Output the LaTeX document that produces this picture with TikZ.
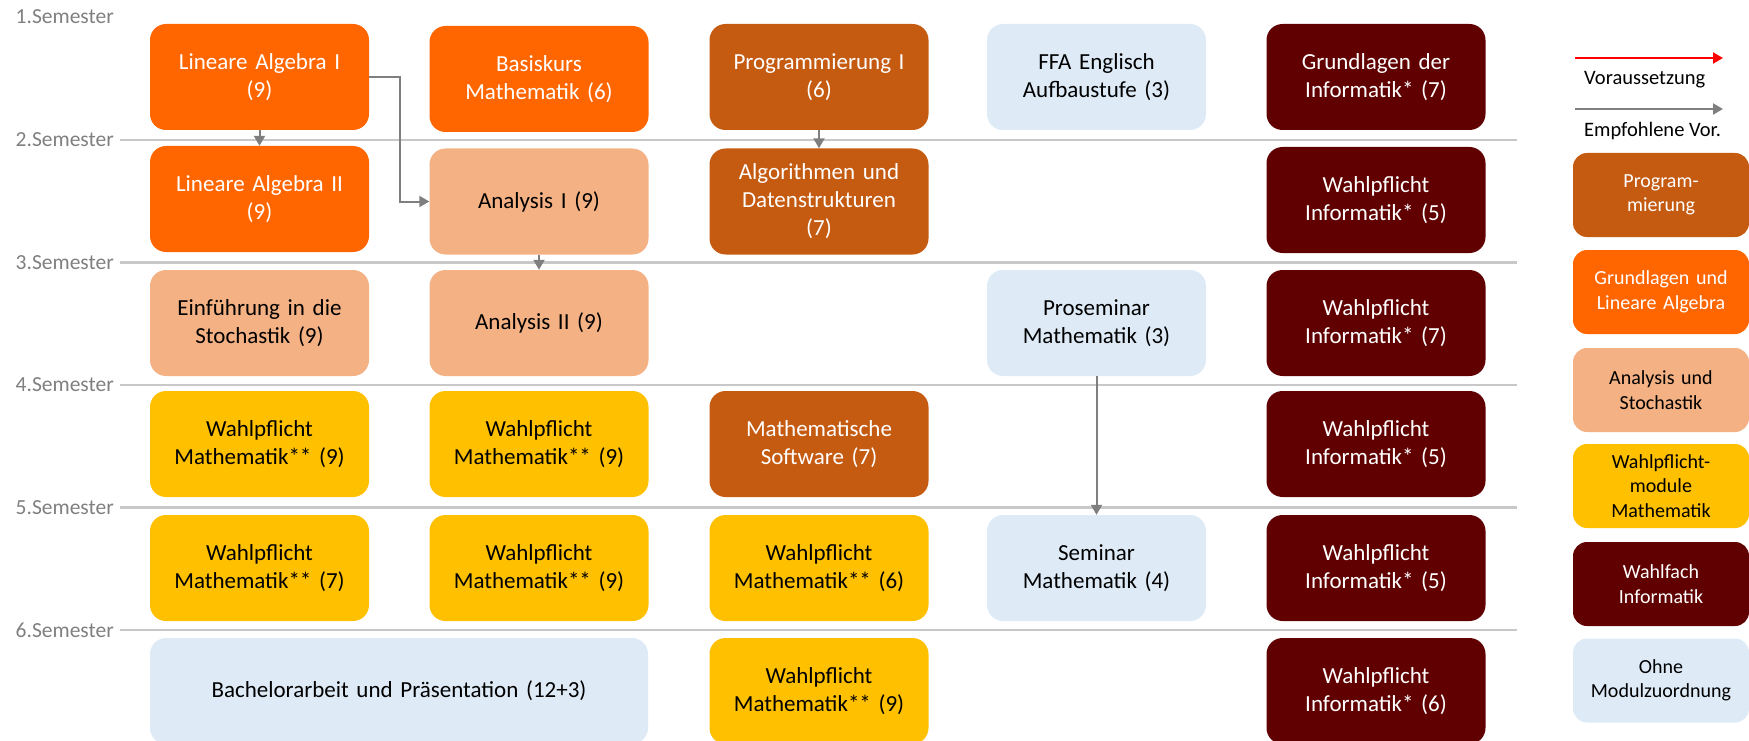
\documentclass[tikz,border=0pt]{standalone}
\usepackage{fontspec}
\setmainfont{Carlito}
\usetikzlibrary{arrows.meta}
\definecolor{cOrange}{HTML}{FF6600}
\definecolor{cProg}{HTML}{C55A11}
\definecolor{cPeach}{HTML}{F4B183}
\definecolor{cYellow}{HTML}{FFC000}
\definecolor{cDark}{HTML}{600000}
\definecolor{cBlue}{HTML}{DEEBF7}
\definecolor{cLine}{HTML}{C8C8C8}
\definecolor{cGrayTxt}{HTML}{808080}
\definecolor{cArrow}{HTML}{7F7F7F}
\definecolor{cRed}{HTML}{FF0000}
\begin{document}
\begin{tikzpicture}[x=1pt,y=-1pt,
  mod/.style={rounded corners=16pt, minimum width=219pt, minimum height=106pt,
    text width=210pt, align=center, inner sep=0pt,
    font=\fontsize{23}{28}\selectfont},
  la/.style={mod, fill=cOrange, text=white},
  prog/.style={mod, fill=cProg, text=white},
  ana/.style={mod, fill=cPeach, text=black},
  wpm/.style={mod, fill=cYellow, text=black},
  inf/.style={mod, fill=cDark, text=white},
  ohne/.style={mod, fill=cBlue, text=black},
  leg/.style={rounded corners=14pt, minimum width=176pt, minimum height=84pt,
    text width=170pt, align=center, inner sep=0pt,
    font=\fontsize{20}{24.5}\selectfont},
  semlab/.style={anchor=east, inner sep=0pt, text=cGrayTxt,
    font=\fontsize{21.5}{24}\selectfont},
  semline/.style={draw=cLine, line width=2.5pt},
  rec/.style={draw=cArrow, line width=2pt, -{Triangle[width=11pt,length=10pt]}},
  req/.style={draw=cRed, line width=2pt, -{Triangle[width=11pt,length=10pt]}},
  legtxt/.style={anchor=west, inner sep=0pt, font=\fontsize{20.5}{24}\selectfont}
]
\useasboundingbox (0,0) rectangle (1749,741);
\clip (0,0) rectangle (1749,741);

% semester labels and lines
\node[semlab] (s1) at (114,17) {1.Semester};
\node[semlab] (s2) at (114,140) {2.Semester};
\node[semlab] (s3) at (114,262.5) {3.Semester};
\node[semlab] (s4) at (114,385) {4.Semester};
\node[semlab] (s5) at (114,507.5) {5.Semester};
\node[semlab] (s6) at (114,630) {6.Semester};
\draw[semline] (120,140) -- (1517,140);
\draw[semline] (120,262.5) -- (1517,262.5);
\draw[semline] (120,385) -- (1517,385);
\draw[semline] (120,507.5) -- (1517,507.5);
\draw[semline] (120,630) -- (1517,630);

% row 1
\node[la]   (la1)  at (259.5,77) {Lineare Algebra I\\(9)};
\node[la]   (bas)  at (539,79)   {Basiskurs\\Mathematik (6)};
\node[prog] (pr1)  at (819,77)   {Programmierung I\\(6)};
\node[ohne] (ffa)  at (1096.5,77) {FFA Englisch\\Aufbaustufe (3)};
\node[inf]  (gdi)  at (1376,77)  {Grundlagen der\\Informatik* (7)};
% row 2
\node[la]   (la2)  at (259.5,199) {Lineare Algebra II\\(9)};
\node[ana]  (an1)  at (539,201.5) {Analysis I (9)};
\node[prog] (alg)  at (819,201.5) {Algorithmen und\\Datenstrukturen\\(7)};
\node[inf]  (wi2)  at (1376,200)  {Wahlpflicht\\Informatik* (5)};
% row 3
\node[ana]  (sto)  at (259.5,323) {Einführung in die\\Stochastik (9)};
\node[ana]  (an2)  at (539,323)   {Analysis II (9)};
\node[ohne] (pros) at (1096.5,323) {Proseminar\\Mathematik (3)};
\node[inf]  (wi3)  at (1376,323)  {Wahlpflicht\\Informatik* (7)};
% row 4
\node[wpm]  (wm41) at (259.5,444) {Wahlpflicht\\Mathematik** (9)};
\node[wpm]  (wm42) at (539,444)   {Wahlpflicht\\Mathematik** (9)};
\node[prog] (msw)  at (819,444)   {Mathematische\\Software (7)};
\node[inf]  (wi4)  at (1376,444)  {Wahlpflicht\\Informatik* (5)};
% row 5
\node[wpm]  (wm51) at (259.5,568) {Wahlpflicht\\Mathematik** (7)};
\node[wpm]  (wm52) at (539,568)   {Wahlpflicht\\Mathematik** (9)};
\node[wpm]  (wm53) at (819,568)   {Wahlpflicht\\Mathematik** (6)};
\node[ohne] (sem)  at (1096.5,568) {Seminar\\Mathematik (4)};
\node[inf]  (wi5)  at (1376,568)  {Wahlpflicht\\Informatik* (5)};
% row 6
\node[ohne, minimum width=498pt, text width=480pt] (ba) at (399,691) {Bachelorarbeit und Präsentation (12+3)};
\node[wpm]  (wm63) at (819,691)   {Wahlpflicht\\Mathematik** (9)};
\node[inf]  (wi6)  at (1376,691)  {Wahlpflicht\\Informatik* (6)};

% connectors
\draw[rec] (la1.south) -- (la2.north);
\draw[rec] (la1.east) -- ++(31,0) |- (an1.west);
\draw[rec] (an1.south) -- (an2.north);
\draw[rec] (pr1.south) -- (alg.north);
\draw[rec] (pros.south) -- (sem.north);

% legend
\coordinate (r1) at (1575,58);
\coordinate (r2) at (1723,58);
\coordinate (g1) at (1575,109);
\coordinate (g2) at (1723,109);
\draw[req] (r1) -- (r2);
\draw[rec] (g1) -- (g2);
\node[legtxt] (tv) at (1584,80) {Voraussetzung};
\node[legtxt] (te) at (1584,131) {Empfohlene Vor.};
\node[leg, fill=cProg, text=white]   (l1) at (1661,195)   {Program-\\mierung};
\node[leg, fill=cOrange, text=white] (l2) at (1661,292)   {Grundlagen und\\Lineare Algebra};
\node[leg, fill=cPeach, text=black]  (l3) at (1661,390)   {Analysis und\\Stochastik};
\node[leg, fill=cYellow, text=black] (l4) at (1661,486)   {Wahlpflicht-\\module\\Mathematik};
\node[leg, fill=cDark, text=white]   (l5) at (1661,584)   {Wahlfach\\Informatik};
\node[leg, fill=cBlue, text=black]   (l6) at (1661,680.5) {Ohne\\Modulzuordnung};
\end{tikzpicture}
\end{document}
